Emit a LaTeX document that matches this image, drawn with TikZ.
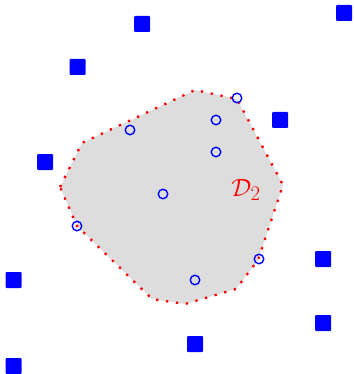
\documentclass[tikz,border=0pt]{standalone}
\begin{document}
\begin{tikzpicture}[x=1pt,y=-1pt,
  site/.style={fill={rgb,255:red,0;green,0;blue,255},rounded corners=1pt},
  pt/.style={draw={rgb,255:red,0;green,0;blue,255},line width=1.4pt,circle,inner sep=0pt,minimum size=9.5pt},
  hull/.style={draw=red,line width=2.3pt,dash pattern=on 2.3pt off 7.7pt,fill={rgb,255:red,221;green,221;blue,221}}]
\useasboundingbox (0,0) rectangle (353,374);
\draw[hull] (60,187) -- (82,143) -- (195,90) -- (237,99) -- (283,185) -- (258,260) -- (236,289) -- (185,304) -- (152,299) -- (77,226) -- cycle;
\foreach \x/\y [count=\i] in {142/24,344/13,77.5/67,280/120,45/162,13.7/280,323/259,323/323,195/344,13.7/366}
  \fill[site] (\x-8,\y-8) rectangle (\x+8,\y+8);
\foreach \x/\y [count=\i] in {130/130,216/120,216/152,163/194,77/226,195/280,259/259,237/98}
  \node[pt] (c\i) at (\x,\y) {};
\node[text=red,font=\fontsize{30}{32}\selectfont] (lab) at (246,190) {$\mathcal{D}_2$};
\end{tikzpicture}
\end{document}
